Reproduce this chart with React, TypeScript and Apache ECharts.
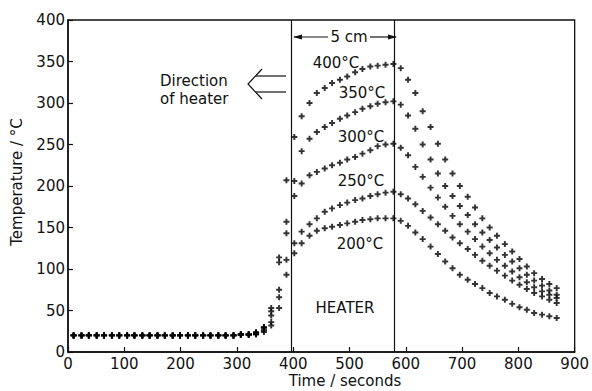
import React, { useEffect, useRef } from "react";
import * as echarts from "echarts";

const times = [
  10, 24, 37, 51, 64, 78, 91, 105, 118, 132, 145, 159, 172, 186, 199, 213, 226, 240, 253, 267, 280, 294, 307, 321,
  334, 348, 361, 375, 388, 402, 415, 429, 442, 456, 469, 483, 496, 510, 523, 537, 550, 564, 578,
  591, 604, 617, 630, 644, 657, 670, 683, 696, 710, 723, 736, 749, 762, 776, 789, 802, 815, 828, 842, 855, 868,
];

const baseline = [20, 20, 20, 20, 20, 20, 20, 20, 20, 20, 20, 20, 20, 20, 20, 20, 20, 20, 20, 20, 20, 20, 21, 21];

const t200 = [
  21, 24, 32, 53, 93, 119, 131, 140, 146, 149, 151, 153, 155, 157, 159, 160, 161, 161, 161,
  158, 152, 144, 136, 127, 118, 109, 101, 93, 87, 82, 77, 71, 67, 63, 58, 54, 51, 47, 45, 43, 41,
];
const t250 = [
  22, 26, 36, 66, 111, 131, 145, 154, 161, 169, 173, 177, 180, 183, 185, 188, 190, 192, 193,
  190, 185, 178, 170, 162, 154, 146, 138, 131, 124, 117, 110, 104, 98, 92, 86, 81, 76, 71, 67, 63, 59,
];
const t300 = [
  22, 28, 44, 75, 143, 188, 203, 213, 217, 221, 225, 228, 232, 235, 239, 243, 248, 250, 251,
  246, 237, 223, 211, 198, 186, 175, 164, 154, 145, 136, 127, 119, 111, 104, 97, 90, 84, 78, 73, 69, 65,
];
const t350 = [
  23, 30, 49, 108, 157, 206, 242, 257, 265, 271, 276, 281, 285, 289, 293, 296, 299, 301, 302,
  298, 285, 269, 250, 232, 215, 200, 188, 176, 165, 154, 144, 135, 126, 117, 109, 101, 93, 86, 80, 74, 69,
];
const t400 = [
  24, 30, 53, 114, 207, 259, 284, 300, 312, 318, 324, 328, 332, 337, 341, 344, 345, 346, 347,
  342, 328, 312, 290, 271, 251, 232, 215, 200, 187, 174, 161, 150, 140, 130, 121, 112, 103, 95, 88, 82, 77,
];

const seriesNames = ["200°C", "250°C", "300°C", "350°C", "400°C"];
const seriesValues = [t200, t250, t300, t350, t400];
const heaterEdges = [396, 580];
const xTicks = [0, 900, 100];
const yTicks = [0, 400, 50];

const PLUS = "path://M3.4,0H6.6V3.4H10V6.6H6.6V10H3.4V6.6H0V3.4H3.4Z";
const FONT = "DejaVu Sans";
const INK = "#111";

export default function App() {
  const ref = useRef<HTMLDivElement>(null);
  useEffect(() => {
    if (!ref.current) return;
    const chart = echarts.init(ref.current, undefined, { renderer: "svg" });
    const series: any[] = seriesValues.map((vals, i) => {
      const full = baseline.concat(vals);
      return {
        name: seriesNames[i],
        type: "scatter",
        symbol: PLUS,
        symbolSize: 6,
        itemStyle: { color: "#000" },
        data: full.map((v, k) => [times[k], v]),
        ...(i === 0
          ? {
              markLine: {
                silent: true,
                symbol: "none",
                label: { show: false },
                lineStyle: { color: INK, width: 1.2, type: "solid" },
                data: heaterEdges.map((x) => ({ xAxis: x })),
              },
            }
          : {}),
      };
    });
    const textStyle = (x: number, y: number, text: string, align = "center", size = 15) => ({
      type: "text",
      x,
      y,
      style: {
        text,
        fill: INK,
        font: `${size}px "${FONT}"`,
        align,
        verticalAlign: "middle",
      },
    });
    chart.setOption({
      animation: false,
      backgroundColor: "#fff",
      grid: {
        left: 68,
        right: 14,
        top: 20,
        bottom: 39,
        show: true,
        borderColor: INK,
        borderWidth: 1.3,
        backgroundColor: "transparent",
      },
      xAxis: {
        type: "value",
        min: xTicks[0],
        max: xTicks[1],
        interval: xTicks[2],
        axisLine: { show: true, lineStyle: { color: INK, width: 1.5 } },
        axisTick: { show: true, inside: true, length: 5, lineStyle: { color: INK, width: 1.2 } },
        axisLabel: { color: INK, fontFamily: FONT, fontSize: 15, margin: 4 },
        splitLine: { show: false },
      },
      yAxis: {
        type: "value",
        min: yTicks[0],
        max: yTicks[1],
        interval: yTicks[2],
        axisLine: { show: true, lineStyle: { color: INK, width: 1.5 } },
        axisTick: { show: true, inside: true, length: 5, lineStyle: { color: INK, width: 1.2 } },
        axisLabel: { color: INK, fontFamily: FONT, fontSize: 15, margin: 3 },
        splitLine: { show: false },
      },
      series,
      graphic: [
        {
          type: "text",
          x: 17,
          y: 182,
          rotation: Math.PI / 2,
          style: {
            text: "Temperature / °C",
            fill: INK,
            font: `15px "${FONT}"`,
            align: "center",
            verticalAlign: "middle",
          },
        },
        textStyle(345, 381, "Time / seconds"),
        textStyle(349, 37, "5 cm"),
        { type: "line", shape: { x1: 294, y1: 37, x2: 328, y2: 37 }, style: { stroke: INK, lineWidth: 1.2 } },
        { type: "line", shape: { x1: 370, y1: 37, x2: 396, y2: 37 }, style: { stroke: INK, lineWidth: 1.2 } },
        { type: "polygon", shape: { points: [[293, 37], [302, 34.5], [302, 39.5]] }, style: { fill: INK } },
        { type: "polygon", shape: { points: [[397, 37], [388, 34.5], [388, 39.5]] }, style: { fill: INK } },
        textStyle(336, 63, "400°C"),
        textStyle(362, 93, "350°C"),
        textStyle(361, 137, "300°C"),
        textStyle(361, 181, "250°C"),
        textStyle(360, 244, "200°C"),
        textStyle(345, 308, "HEATER"),
        textStyle(160, 81, "Direction", "left"),
        textStyle(160, 99, "of heater", "left"),
        { type: "line", shape: { x1: 256, y1: 76, x2: 286, y2: 76 }, style: { stroke: INK, lineWidth: 1.2 } },
        { type: "line", shape: { x1: 256, y1: 92, x2: 286, y2: 92 }, style: { stroke: INK, lineWidth: 1.2 } },
        {
          type: "polyline",
          shape: { points: [[262, 69], [248, 84], [262, 99]] },
          style: { stroke: INK, lineWidth: 1.2, fill: "none" },
        },
      ],
    });
    return () => chart.dispose();
  }, []);
  return (
    <div
      ref={ref}
      style={{ position: "absolute", left: 0, top: 0, width: 592, height: 391 }}
    />
  );
}
